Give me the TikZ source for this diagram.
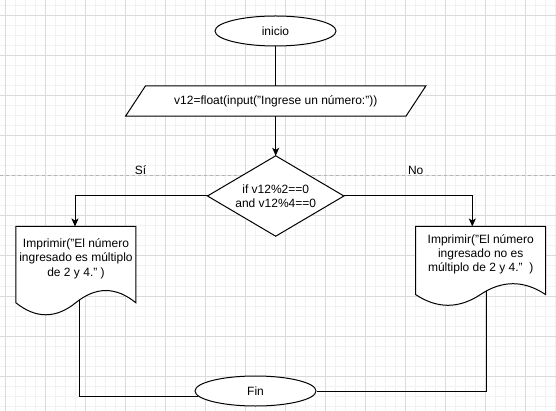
\documentclass[tikz,border=0pt]{standalone}
\usepackage{fontspec}
\setmainfont{Liberation Sans}
\usetikzlibrary{arrows.meta,shapes.geometric,calc}
\definecolor{gmin}{HTML}{F2F2F2}
\definecolor{gmaj}{HTML}{DBDBDB}
\definecolor{pagec}{HTML}{B4B4B4}
\pgfdeclarelayer{bg}
\pgfdeclarelayer{shp}
\pgfsetlayers{bg,shp,main}
\begin{document}
\begin{tikzpicture}[x=1pt,y=-1pt, font=\fontsize{12}{14.4}\selectfont, line width=1pt,
  txtbox/.style={draw=none, inner sep=0pt, align=center},
  outline/.style={draw=black, line width=1pt, fill=white},
  conn/.style={draw=black, line width=1pt},
  arr/.style={conn, -{Stealth[length=8pt,width=7pt,inset=2pt]}},
  term/.style={ellipse, draw=black, fill=white, line width=1pt, minimum width=121pt, minimum height=30pt, inner sep=0pt},
  lbl/.style={anchor=base, inner sep=0pt}]
\useasboundingbox (0,0) rectangle (556,411);
\begin{pgfonlayer}{bg}
  \fill[white] (0,0) rectangle (556,411);
  \foreach \x in {5,15,...,555} \draw[gmin, line width=1pt] (\x,0) -- (\x,411);
  \foreach \y in {6,16,...,406} \draw[gmin, line width=1pt] (0,\y) -- (556,\y);
  \foreach \x in {5,45,...,545} \draw[gmaj, line width=1pt] (\x,0) -- (\x,411);
  \foreach \y in {16,56,...,376} \draw[gmaj, line width=1pt] (0,\y) -- (556,\y);
  \draw[pagec, line width=1pt, dash pattern=on 3pt off 3pt] (0,176) -- (556,176);
\end{pgfonlayer}

% nodes
\node[term] (inicio) at (275.5,31) {inicio};
\node[txtbox, minimum width=280pt, minimum height=30pt] (in1) at (275.75,101) {v12=float(input("Ingrese un número:"))};
\node[txtbox, minimum width=136pt, minimum height=80pt] (cond) at (275.7,196) {if v12\%2==0\\and v12\%4==0};
\node[txtbox, minimum width=120pt, minimum height=64pt] (ldoc) at (76,258.7) {Imprimir("El número\\ingresado es múltiplo\\de 2 y 4." )};
\node[txtbox, minimum width=130pt, minimum height=55.2pt] (rdoc) at (480.7,254.3) {Imprimir("El número\\ingresado no es\\múltiplo de 2 y 4."~~)};
\node[term] (fin) at (255.5,391) {Fin};
\node[lbl] (si) at (140.5,175) {Sí};
\node[lbl] (no) at (415.7,175) {No};

% shape outlines
\begin{pgfonlayer}{shp}
  \draw[outline] ([xshift=-10pt]in1.south west) -- ([xshift=10pt]in1.north west) -- ([xshift=10pt]in1.north east) -- ([xshift=-10pt]in1.south east) -- cycle;
  \draw[outline] (cond.north) -- (cond.east) -- (cond.south) -- (cond.west) -- cycle;
  \begin{scope}[shift={(ldoc.north west)}]
    \draw[outline] (0,0) -- (120,0) -- (120,76.2) .. controls (100,60) and (80,60) .. (60,76.2) .. controls (40,92.3) and (20,92.3) .. (0,76.2) -- cycle;
  \end{scope}
  \begin{scope}[shift={(rdoc.north west)}]
    \draw[outline] (0,0) -- (130,0) -- (130,68) .. controls (108.33,53.6) and (86.67,53.6) .. (65,68) .. controls (43.33,82.4) and (21.67,82.4) .. (0,68) -- cycle;
  \end{scope}
\end{pgfonlayer}

% connectors
\draw[conn] (inicio.south) -- (inicio.south |- in1.north);
\draw[arr] (in1.south -| cond.north) -- (cond.north);
\draw[arr] (cond.west) -| ([xshift=-1pt]ldoc.north);
\draw[arr] (cond.east) -| ([xshift=-8.4pt]rdoc.north);
\coordinate (lout) at ($(ldoc.north west)+(64,73.2)$);
\coordinate (rout) at ($(rdoc.north west)+(70.6,64.6)$);
\draw[conn] (lout) |- (fin.185);
\draw[conn] (rout) |- (fin.east);
\end{tikzpicture}
\end{document}
